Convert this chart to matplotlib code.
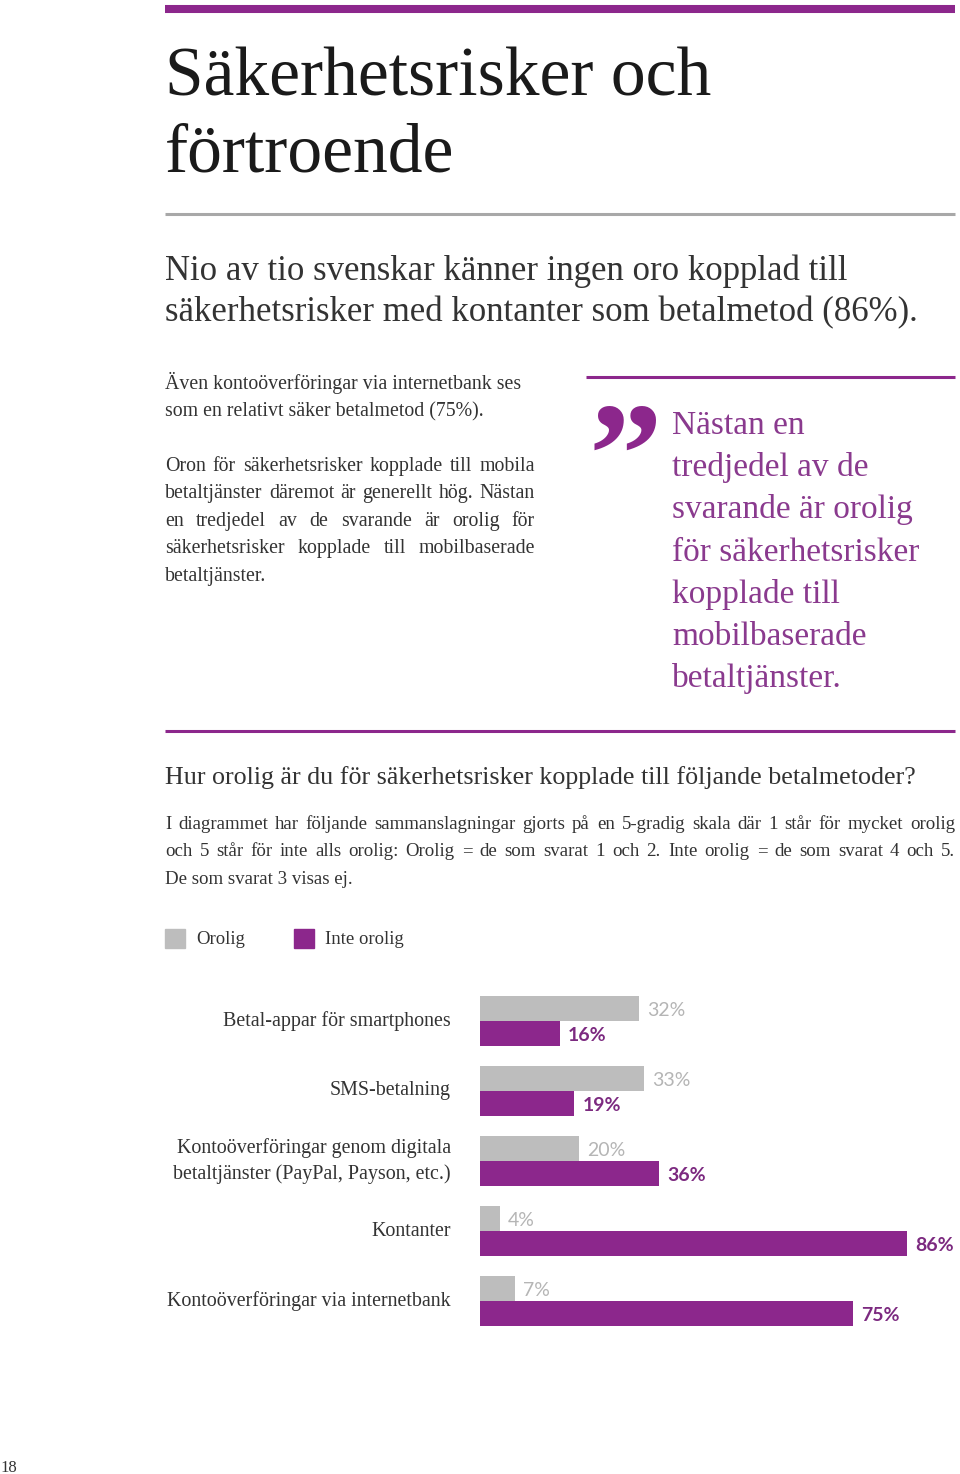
import matplotlib
matplotlib.use('Agg')
import matplotlib.pyplot as plt
import numpy as np

# chart data
categories = ['Betal-appar för smartphones',
              'SMS-betalning',
              'Kontoöverföringar genom digitala\nbetaltjänster (PayPal, Payson, etc.)',
              'Kontanter',
              'Kontoöverföringar via internetbank']
orolig = [32, 33, 20, 4, 7]
inte_orolig = [16, 19, 36, 86, 75]
legend_labels = ['Orolig', 'Inte orolig']

W, H = 960, 1474
PURPLE = '#8c278c'
PURPLE_TXT = '#7c2a80'
QUOTE_TXT = '#8a3a8e'
GRAY = '#bdbdbd'
GRAY_TXT = '#b5b5b5'
DARK = '#333333'
SERIF = 'Liberation Serif'
SANS = 'Lato'

fig = plt.figure(figsize=(9.6, 14.74), dpi=100)
renderer = fig.canvas.get_renderer()

def fx(x): return x / W
def fy(y): return 1 - y / H

def put(x, y, s, size, color=DARK, ha='left', va='baseline', family=SERIF, **kw):
    return fig.text(fx(x), fy(y), s, fontsize=size, color=color, ha=ha, va=va,
                    family=family, **kw)

def hline(x0, x1, y, color, lw):
    fig.add_artist(plt.Line2D([fx(x0), fx(x1)], [fy(y), fy(y)], color=color, lw=lw,
                              solid_capstyle='butt', transform=fig.transFigure))

def justify(x0, x1, y, s, size, color=DARK):
    words = s.split()
    objs = [put(x0, y, w, size, color) for w in words]
    widths = [o.get_window_extent(renderer).width for o in objs]
    gap = (x1 - x0 - sum(widths)) / (len(words) - 1)
    x = x0
    for o, w in zip(objs, widths):
        o.set_x(fx(x))
        x += w + gap

# header
hline(165, 955, 9, PURPLE, 5.8)
put(165, 95, 'Säkerhetsrisker och', 50, color='#1a1a1a')
put(165, 172, 'förtroende', 50, color='#1a1a1a')
hline(165, 955, 214, '#a8a8a8', 2.2)

put(165, 280, 'Nio av tio svenskar känner ingen oro kopplad till', 25)
put(165, 321, 'säkerhetsrisker med kontanter som betalmetod (86%).', 25)

# left column
put(165, 389, 'Även kontoöverföringar via internetbank ses', 14.3)
put(165, 416, 'som en relativt säker betalmetod (75%).', 14.3)
justify(165, 535, 471, 'Oron för säkerhetsrisker kopplade till mobila', 14.3)
justify(165, 535, 498, 'betaltjänster däremot är generellt hög. Nästan', 14.3)
justify(165, 535, 526, 'en tredjedel av de svarande är orolig för', 14.3)
justify(165, 535, 553, 'säkerhetsrisker kopplade till mobilbaserade', 14.3)
put(165, 581, 'betaltjänster.', 14.3)

# quote
hline(586, 955, 377, PURPLE, 2.2)
put(589, 401, '\u201d', 106, color=PURPLE, va='top', family='Liberation Serif',
    fontweight='bold')
quote = ['Nästan en', 'tredjedel av de', 'svarande är orolig', 'för säkerhetsrisker',
         'kopplade till', 'mobilbaserade', 'betaltjänster.']
for i, line in enumerate(quote):
    put(672, 434 + i * 42.2, line, 24, color=QUOTE_TXT)

hline(165, 955, 731, PURPLE, 2.2)

# chart heading and note
put(165, 784, 'Hur orolig är du för säkerhetsrisker kopplade till följande betalmetoder?', 18.7)
justify(165, 955, 829, 'I diagrammet har följande sammanslagningar gjorts på en 5-gradig skala där 1 står för mycket orolig', 13.6)
justify(165, 955, 856, 'och 5 står för inte alls orolig: Orolig  = de som svarat 1 och 2. Inte orolig = de som svarat 4 och 5.', 13.6)
put(165, 884, 'De som svarat 3 visas ej.', 13.6)

# legend
for x0, col, lab in [(165, GRAY, legend_labels[0]), (294, PURPLE, legend_labels[1])]:
    fig.add_artist(plt.Rectangle((fx(x0), fy(948)), 20 / W, 19 / H, color=col,
                                 transform=fig.transFigure))
    put(x0 + 31, 939, lab, 13.5, va='center')

# bars
px = 4.97  # pixels per percent
ax = fig.add_axes([fx(480), fy(1326), 480 / W, 330 / H])
y = np.arange(len(categories))
off = 12.5 / 70
h = 25 / 70
ax.barh(y - off, orolig, height=h, color=GRAY)
ax.barh(y + off, inte_orolig, height=h, color=PURPLE)
ax.set_xlim(0, 480 / px)
ax.set_ylim(len(categories) - 1 + h, -h)
ax.axis('off')

for i, (a, b) in enumerate(zip(orolig, inte_orolig)):
    ax.text(a + 8 / px, i - off + 0.03, f'{a}%', va='center', ha='left', fontsize=14,
            color=GRAY_TXT, family=SANS)
    ax.text(b + 8 / px, i + off + 0.03, f'{b}%', va='center', ha='left', fontsize=14,
            color=PURPLE_TXT, family=SANS, fontweight='bold')
    ax.text(-29 / px, i, categories[i], va='center', ha='right', fontsize=14.4,
            color=DARK, family=SERIF, multialignment='right', linespacing=1.45)

put(0, 1472, '18', 12)

fig.savefig('out.png', dpi=100)
